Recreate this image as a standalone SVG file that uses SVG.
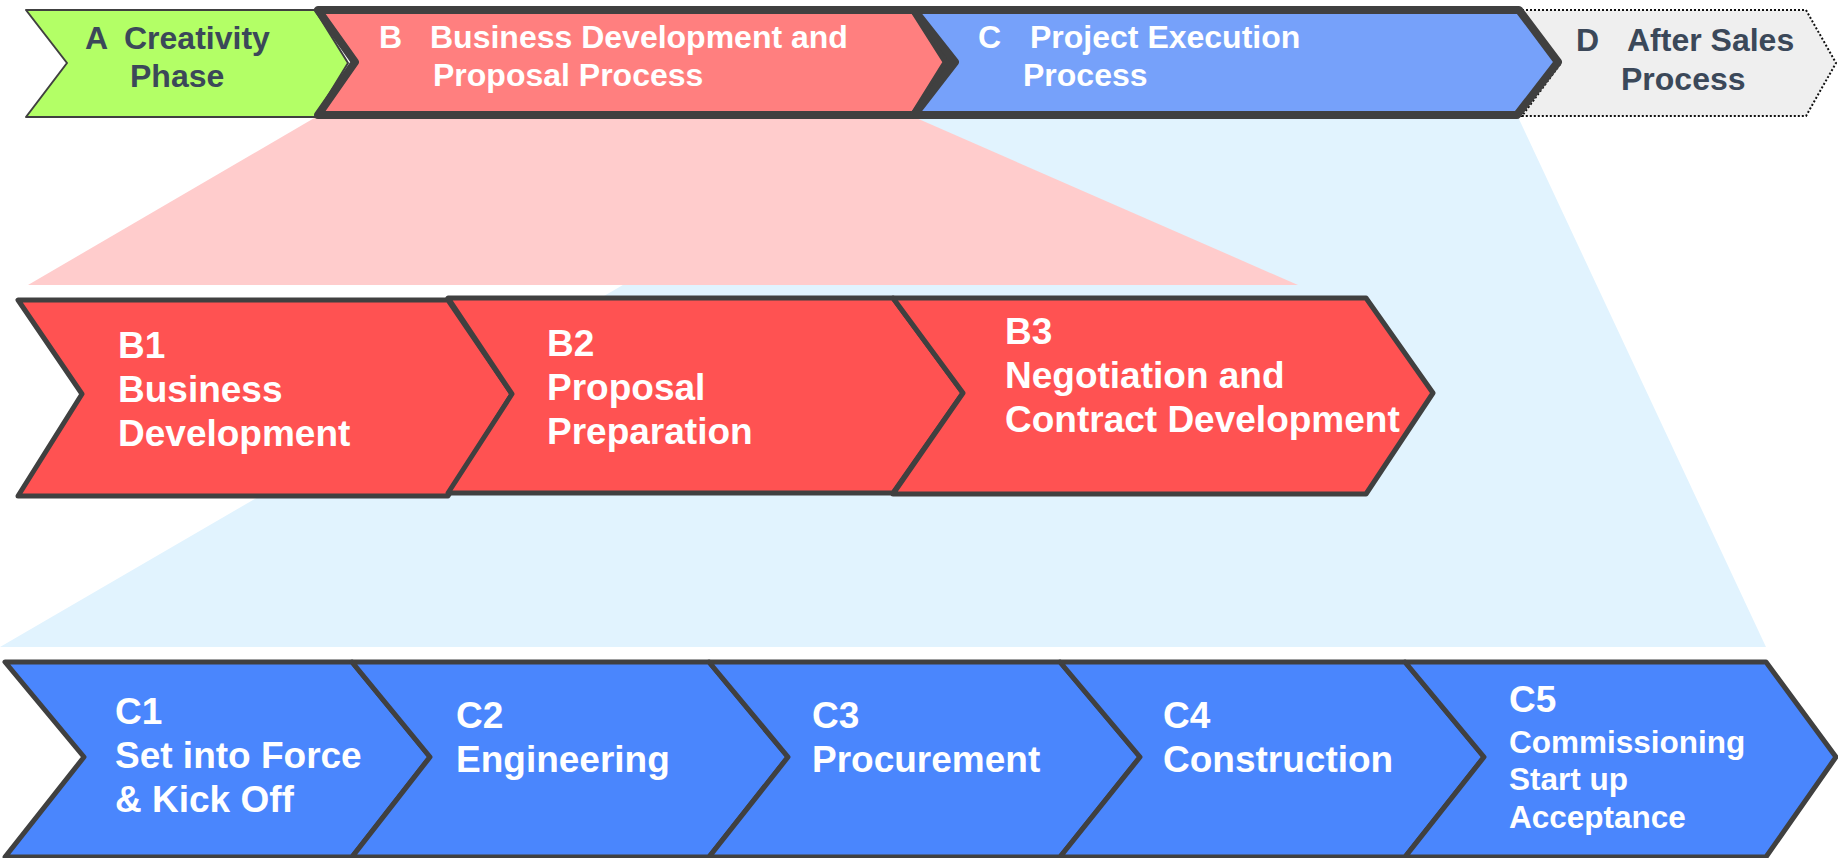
<svg xmlns="http://www.w3.org/2000/svg" width="1838" height="858" viewBox="0 0 1838 858">
<style>
text{font-family:"Liberation Sans",Arial,sans-serif;font-weight:bold}
.top{font-size:32px}
.big{font-size:37px}
.mid{font-size:31.5px}
.dark{fill:#3b4859}
.wh{fill:#ffffff}
.brow{fill:#ff5252;stroke:#404040;stroke-width:5;stroke-linejoin:round}
.crow{fill:#4a86fd;stroke:#404040;stroke-width:5;stroke-linejoin:round}
</style>
<rect width="1838" height="858" fill="#ffffff"/>
<g id="connectors">
<polygon points="912,117 1518,117 1766,647 0,647" fill="#e1f3fe"/>
<polygon points="316,117 914,117 1298,285 28,285" fill="#ffcccc"/>
</g>
<g id="A">
<polygon points="26,10 315,10 348,63 315,117 26,117 67,63" fill="#b3ff66" stroke="#404040" stroke-width="2" stroke-linejoin="round"/>
<text class="top dark"><tspan x="85" y="49">A</tspan><tspan x="124" y="49">Creativity</tspan><tspan x="130" y="87">Phase</tspan></text>
</g>
<g id="D">
<polygon points="1522,10 1806,10 1836,63 1806,116 1522,116 1561,63" fill="#efefef" stroke="#111111" stroke-width="2" stroke-dasharray="2,2"/>
<text class="top dark"><tspan x="1576" y="51">D</tspan><tspan x="1627" y="51">After Sales</tspan><tspan x="1621" y="90">Process</tspan></text>
</g>
<g id="B">
<polygon points="318,10 914,10 947,62 914,115 318,115 355,62" fill="#ff7f7f" stroke="#404040" stroke-width="8" stroke-linejoin="round"/>
<text class="top wh"><tspan x="379" y="48">B</tspan><tspan x="430" y="48">Business Development and</tspan><tspan x="433" y="86">Proposal Process</tspan></text>
</g>
<g id="C">
<polygon points="914,10 1519,10 1558,62 1517,115 914,115 955,62" fill="#76a1fa" stroke="#404040" stroke-width="8" stroke-linejoin="round"/>
<text class="top wh"><tspan x="978" y="48">C</tspan><tspan x="1030" y="48">Project Execution</tspan><tspan x="1023" y="86">Process</tspan></text>
</g>
<g id="B1">
<polygon class="brow" points="18,300 448,300 512,394 448,496 18,496 82,394"/>
<text class="big wh"><tspan x="118" y="358">B1</tspan><tspan x="118" y="402">Business</tspan><tspan x="118" y="446">Development</tspan></text>
</g>
<g id="B2">
<polygon class="brow" points="448,298 893,298 963,393 893,493 448,493 512,394"/>
<text class="big wh"><tspan x="547" y="356">B2</tspan><tspan x="547" y="400">Proposal</tspan><tspan x="547" y="444">Preparation</tspan></text>
</g>
<g id="B3">
<polygon class="brow" points="893,298 1366,298 1433,393 1366,494 893,494 963,393"/>
<text class="big wh"><tspan x="1005" y="344">B3</tspan><tspan x="1005" y="388">Negotiation and</tspan><tspan x="1005" y="432">Contract Development</tspan></text>
</g>
<g id="C1">
<polygon class="crow" points="5,662 352,662 430,757 352,857 5,857 84,757"/>
<text class="big wh"><tspan x="115" y="724">C1</tspan><tspan x="115" y="768">Set into Force</tspan><tspan x="115" y="812">&amp; Kick Off</tspan></text>
</g>
<g id="C2">
<polygon class="crow" points="352,662 709,662 788,757 709,857 352,857 430,757"/>
<text class="big wh"><tspan x="456" y="728">C2</tspan><tspan x="456" y="772">Engineering</tspan></text>
</g>
<g id="C3">
<polygon class="crow" points="709,662 1060,662 1140,757 1060,857 709,857 788,757"/>
<text class="big wh"><tspan x="812" y="728">C3</tspan><tspan x="812" y="772">Procurement</tspan></text>
</g>
<g id="C4">
<polygon class="crow" points="1060,662 1405,662 1484,757 1405,857 1060,857 1140,757"/>
<text class="big wh"><tspan x="1163" y="728">C4</tspan><tspan x="1163" y="772">Construction</tspan></text>
</g>
<g id="C5">
<polygon class="crow" points="1405,662 1766,662 1836,757 1766,857 1405,857 1484,757"/>
<text class="wh"><tspan class="big" x="1509" y="712">C5</tspan><tspan class="mid" x="1509" y="753">Commissioning</tspan><tspan class="mid" x="1509" y="790">Start up</tspan><tspan class="mid" x="1509" y="828">Acceptance</tspan></text>
</g>
</svg>
